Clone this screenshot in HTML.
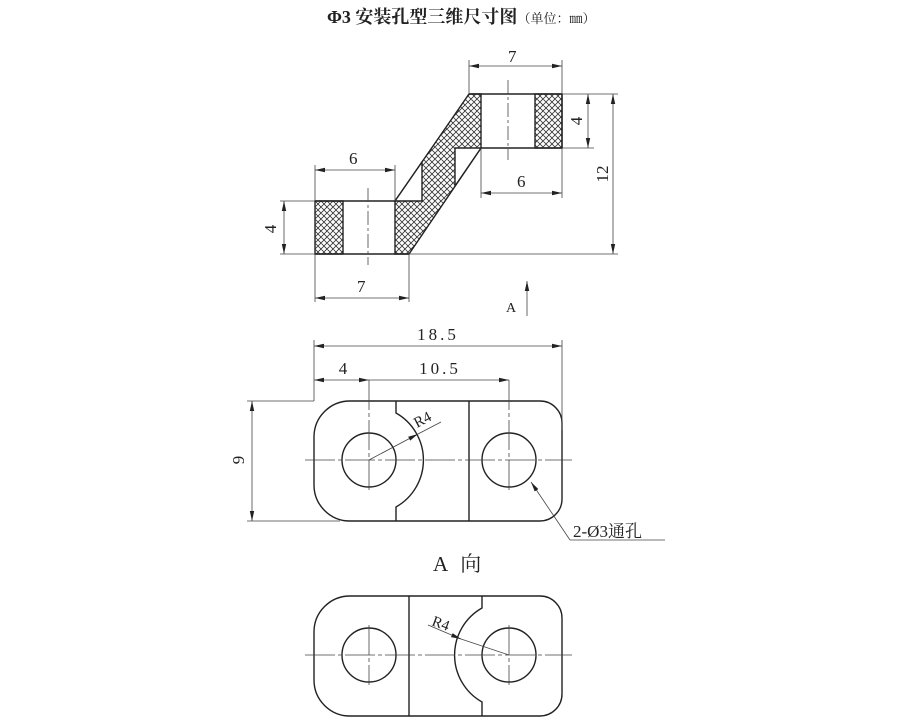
<!DOCTYPE html>
<html><head><meta charset="utf-8"><style>
html,body{margin:0;padding:0;background:#fff;}
svg{display:block;}
text{font-family:"Liberation Serif","Noto Serif CJK SC",serif;fill:#222;}
</style></head><body>
<svg width="900" height="723" viewBox="0 0 900 723" xmlns="http://www.w3.org/2000/svg">
<defs>
<pattern id="h" width="6" height="6" patternUnits="userSpaceOnUse">
<path d="M0 0L6 6M6 0L0 6M-1 5L1 7M5 -1L7 1M-1 1L1 -1M5 7L7 5" stroke="#333" stroke-width="0.8"/>
</pattern>
<marker id="a" viewBox="0 0 10 6" refX="10" refY="3" markerWidth="10" markerHeight="6" orient="auto-start-reverse" markerUnits="userSpaceOnUse"><path d="M0 0.8L10 3L0 5.2z" fill="#222"/></marker>
</defs>
<text x="327" y="23" font-family="Liberation Sans,Noto Sans CJK SC,sans-serif" font-weight="bold" font-size="18">Φ3 安装孔型三维尺寸图<tspan font-size="13" font-weight="normal">（单位：㎜）</tspan></text>

<g stroke="#222" stroke-width="1.4" fill="none">
<rect x="315" y="201" width="28" height="53" fill="url(#h)"/>
<rect x="535" y="94" width="27" height="54" fill="url(#h)"/>
<path d="M395 201L395 254L409 254L481 148L481 94L469 94Z" fill="url(#h)"/>
<path d="M395 201L422 201L422 162Z" fill="#fff"/>
<path d="M455 148L481 148L455 186Z" fill="#fff"/>
<path d="M315 201H395M315 254H409M469 94H562M481 148H562M562 94V148"/>
</g>
<g stroke="#444" stroke-width="0.8" fill="none">
<path d="M368 188V265M508 80V160" stroke-dasharray="14 3 3 3"/>
<path d="M469 94V60M562 94V60M315 201V165M395 201V165M315 254V302M409 254V302M280 201H315M280 254H315M481 148V198M562 148V198M562 94H618M562 148H594M409 254H618"/>
<path d="M469 66H562" marker-start="url(#a)" marker-end="url(#a)"/>
<path d="M315 170H395" marker-start="url(#a)" marker-end="url(#a)"/>
<path d="M315 298H409" marker-start="url(#a)" marker-end="url(#a)"/>
<path d="M284 201V254" marker-start="url(#a)" marker-end="url(#a)"/>
<path d="M588 94V148" marker-start="url(#a)" marker-end="url(#a)"/>
<path d="M481 193H562" marker-start="url(#a)" marker-end="url(#a)"/>
<path d="M613 94V254" marker-start="url(#a)" marker-end="url(#a)"/>
<path d="M527 316V281" marker-end="url(#a)"/>
</g>
<g font-size="17">
<text x="508" y="62">7</text>
<text x="349" y="164">6</text>
<text x="357" y="292">7</text>
<text x="517" y="187">6</text>
<text x="276" y="229" transform="rotate(-90 276 229)" text-anchor="middle">4</text>
<text x="582" y="121" transform="rotate(-90 582 121)" text-anchor="middle">4</text>
<text x="608" y="174" transform="rotate(-90 608 174)" text-anchor="middle">12</text>
<text x="506" y="312" font-size="14">A</text>
</g>

<g stroke="#222" stroke-width="1.4" fill="none">
<path d="M350 401H540A22 22 0 0 1 562 423V499A22 22 0 0 1 540 521H350A36 36 0 0 1 314 485V437A36 36 0 0 1 350 401Z"/>
<circle cx="369" cy="460" r="27"/><circle cx="509" cy="460" r="27"/>
<path d="M469 401V521M396 401V413A54 54 0 0 1 396 507V521"/>
</g>
<g stroke="#444" stroke-width="0.8" fill="none">
<path d="M305 460H572M369 380V490M509 380V490" stroke-dasharray="30 3 4 3"/>
<path d="M314 401V340M562 430V340M247 401H314M247 521H340"/>
<path d="M314 346H562" marker-start="url(#a)" marker-end="url(#a)"/>
<path d="M314 380H369" marker-start="url(#a)" marker-end="url(#a)"/>
<path d="M369 380H509" marker-end="url(#a)"/>
<path d="M252 401V521" marker-start="url(#a)" marker-end="url(#a)"/>
<path d="M369 460L418 434" marker-end="url(#a)"/><path d="M418 434L441 422"/>
<path d="M570 540L531 482" marker-end="url(#a)"/><path d="M570 540H665"/>
</g>
<g font-size="17">
<text x="438" y="340" text-anchor="middle" letter-spacing="3">18.5</text>
<text x="343" y="374" text-anchor="middle">4</text>
<text x="440" y="374" text-anchor="middle" letter-spacing="3">10.5</text>
<text x="244" y="460" transform="rotate(-90 244 460)" text-anchor="middle">9</text>
<text x="417" y="428" font-size="15" transform="rotate(-28 417 428)">R4</text>
<text x="573" y="537" font-size="17">2-Ø3通孔</text>
<text x="433" y="571" font-size="21" letter-spacing="4">A 向</text>
</g>

<g stroke="#222" stroke-width="1.4" fill="none">
<path d="M350 596H540A22 22 0 0 1 562 618V694A22 22 0 0 1 540 716H350A36 36 0 0 1 314 680V632A36 36 0 0 1 350 596Z"/>
<circle cx="369" cy="655" r="27"/><circle cx="509" cy="655" r="27"/>
<path d="M409 596V716M482 596V608A54 54 0 0 0 482 702V716"/>
</g>
<g stroke="#444" stroke-width="0.8" fill="none">
<path d="M305 655H572M369 625V685M509 625V685" stroke-dasharray="30 3 4 3"/>
<path d="M458 638L509 655"/><path d="M428 625L461 639" marker-end="url(#a)"/>
</g>
<text x="431" y="625" font-size="15" transform="rotate(20 431 625)">R4</text>
</svg>
</body></html>
